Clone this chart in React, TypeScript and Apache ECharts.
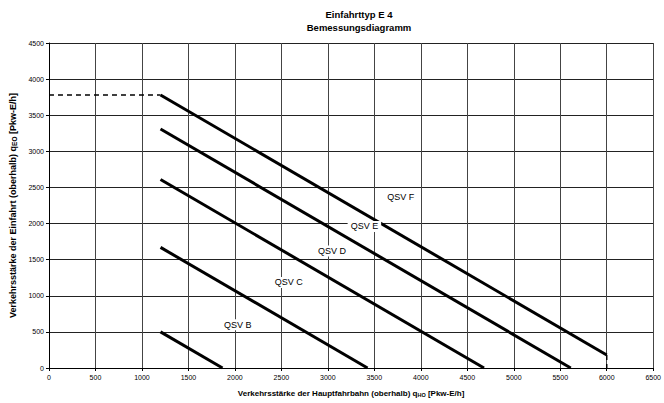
import React, { useEffect, useRef } from "react";
import * as echarts from "echarts";

const xTicks = [0, 500, 1000, 1500, 2000, 2500, 3000, 3500, 4000, 4500, 5000, 5500, 6000, 6500];
const lineB = [[1200, 500], [1867, 0]];
const lineC = [[1200, 1670], [3427, 0]];
const lineD = [[1200, 2610], [4680, 0]];
const lineE = [[1200, 3310], [5613, 0]];
const lineF = [[1200, 3780], [6000, 180]];
const dashH = [[0, 3780], [1200, 3780]];
const dashV = [[6000, 180], [6000, 0]];
const labelNames = ["QSV B", "QSV C", "QSV D", "QSV E", "QSV F"];
const labelX = [2030, 2580, 3045, 3393, 3784];
const labelY = [600, 1185, 1620, 1960, 2370];

const FONT = "Liberation Sans, Arial, sans-serif";

export default function App() {
  const ref = useRef<HTMLDivElement>(null);
  useEffect(() => {
    if (!ref.current) return;
    const chart = echarts.init(ref.current, undefined, { renderer: "svg" });
    const solid = (name: string, data: number[][]) => ({
      name,
      type: "line",
      data,
      symbol: "none",
      lineStyle: { color: "#000", width: 3 },
      z: 3,
    });
    const dashed = (name: string, data: number[][]) => ({
      name,
      type: "line",
      data,
      symbol: "none",
      lineStyle: { color: "#000", width: 1.5, type: [5, 4] },
      z: 3,
    });
    const labelData = labelNames.map((n, i) => [labelX[i], labelY[i], i]);
    chart.setOption({
      animation: false,
      backgroundColor: "#fff",
      textStyle: { fontFamily: FONT },
      title: {
        text: "Einfahrttyp E 4\nBemessungsdiagramm",
        left: 354,
        textAlign: "center",
        top: 3,
        textStyle: { fontSize: 9.5, fontWeight: "bold", color: "#000", lineHeight: 13, fontFamily: FONT },
      },
      grid: { left: 47, right: 2, top: 43, bottom: 31, containLabel: false },
      xAxis: {
        type: "value",
        min: 0,
        max: 6500,
        interval: 500,
        axisLine: { lineStyle: { color: "#000", width: 1 } },
        axisTick: { show: true, length: 3, lineStyle: { color: "#000" } },
        axisLabel: { fontSize: 7, color: "#000", margin: 6, fontFamily: FONT, formatter: (v: number) => String(v) },
        splitLine: { show: true, lineStyle: { color: "#444", width: 1 } },
        name: "{a|Verkehrsstärke der Hauptfahrbahn (oberhalb) q}{s|HO}{a| [Pkw-E/h]}",
        nameLocation: "middle",
        nameGap: 21,
        nameTextStyle: {
          rich: {
            a: { fontSize: 8, fontWeight: "bold", color: "#000", fontFamily: FONT },
            s: { fontSize: 5.5, fontWeight: "bold", color: "#000", fontFamily: FONT, verticalAlign: "bottom", padding: [3, 0, 0, 0] },
          },
        },
      },
      yAxis: {
        type: "value",
        min: 0,
        max: 4500,
        interval: 500,
        axisLine: { show: true, lineStyle: { color: "#000", width: 1 } },
        axisTick: { show: true, length: 3, lineStyle: { color: "#000" } },
        axisLabel: { fontSize: 7, color: "#000", margin: 5, fontFamily: FONT, formatter: (v: number) => String(v) },
        splitLine: { show: true, lineStyle: { color: "#222", width: 1 } },
        name: "{a|Verkehrsstärke der Einfahrt (oberhalb) q}{s|EO}{a| [Pkw-E/h]}",
        nameLocation: "middle",
        nameGap: 31,
        nameRotate: 90,
        nameTextStyle: {
          rich: {
            a: { fontSize: 9, fontWeight: "bold", color: "#000", fontFamily: FONT },
            s: { fontSize: 6.5, fontWeight: "bold", color: "#000", fontFamily: FONT, verticalAlign: "bottom", padding: [3, 0, 0, 0] },
          },
        },
      },
      series: [
        solid("B", lineB),
        solid("C", lineC),
        solid("D", lineD),
        solid("E", lineE),
        solid("F", lineF),
        dashed("h", dashH),
        dashed("v", dashV),
        {
          name: "labels",
          type: "custom",
          z: 10,
          data: labelData,
          renderItem: (params: any, api: any) => {
            const p = api.coord([api.value(0), api.value(1)]);
            const idx = api.value(2);
            return {
              type: "text",
              x: p[0],
              y: p[1],
              z2: 100,
              style: {
                text: labelNames[idx],
                fill: "#000",
                fontSize: 9,
                fontFamily: FONT,
                align: "center",
                verticalAlign: "middle",
                backgroundColor: "#fff",
                padding: [1, 3],
              },
            };
          },
        },
      ],
    });
    return () => chart.dispose();
  }, []);
  return <div ref={ref} style={{ width: 664, height: 403, position: "absolute", left: 0, top: 0 }} />;
}
